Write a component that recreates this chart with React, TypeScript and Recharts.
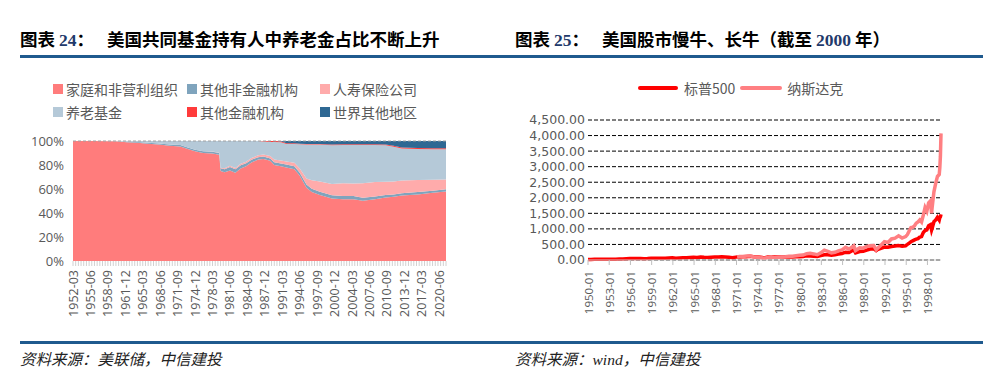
import React from 'react';
import { AreaChart, Area, LineChart, Line, XAxis, YAxis, CartesianGrid, ReferenceLine } from 'recharts';

// ---------- Left chart: US mutual fund holders (share, %) ----------
const holdPeriods = [
  '1952-03', '1956-03', '1960-03', '1962-03', '1964-03', '1966-03', '1968-03', '1970-03', '1972-03', '1973-06',
  '1974-12', '1976-06', '1978-03', '1979-06', '1979-09', '1980-06', '1981-06', '1982-06', '1983-06', '1984-06',
  '1985-06', '1986-09', '1987-09', '1988-12', '1989-09', '1990-12', '1991-12', '1993-06', '1994-06', '1995-09',
  '1996-09', '1998-03', '2000-06', '2002-06', '2004-06', '2006-03', '2008-06', '2010-06', '2011-12', '2013-06',
  '2016-06', '2019-03', '2021-09',
];
const household = [
  100, 99.9, 99.7, 99.0, 98.5, 97.8, 97.0, 96.0, 95.5, 93.5,
  91.5, 90.0, 89.5, 88.5, 75.0, 74.0, 75.5, 73.5, 77.0, 79.0,
  82.0, 84.5, 85.0, 83.5, 80.0, 79.0, 78.0, 76.5, 71.0, 61.0,
  57.5, 55.0, 52.0, 51.5, 51.5, 50.3, 51.5, 53.0, 53.5, 54.5,
  55.5, 56.8, 58.0,
];
const otherNonFin = [
  0, 0, 0.1, 0.4, 0.6, 0.8, 0.9, 1.0, 1.1, 1.2,
  1.3, 1.4, 1.5, 1.6, 2.2, 2.5, 2.8, 3.0, 2.8, 2.5,
  2.3, 2.0, 2.0, 2.0, 2.2, 2.3, 2.4, 2.5, 2.6, 2.8,
  2.8, 2.8, 2.7, 2.7, 2.6, 2.5, 2.3, 2.1, 2.0, 2.0,
  2.0, 1.8, 1.8,
];
const lifeIns = [
  0, 0, 0, 0, 0, 0, 0, 0, 0, 0,
  0, 0, 0.2, 0.2, 0.5, 0.8, 1.0, 1.0, 1.2, 1.3,
  1.5, 1.6, 1.7, 2.0, 2.4, 2.5, 2.6, 2.8, 3.5, 5.0,
  7.0, 8.5, 9.5, 10.5, 10.5, 12.0, 12.0, 11.0, 10.8, 10.5,
  10.0, 9.2, 8.2,
];
const pension = [
  0, 0.1, 0.2, 0.6, 0.9, 1.4, 2.1, 3.0, 3.4, 5.3,
  7.2, 8.6, 8.8, 9.7, 22.3, 22.7, 20.7, 22.5, 19.0, 17.2,
  14.2, 11.9, 10.8, 11.7, 14.6, 15.2, 14.6, 15.8, 20.2, 28.2,
  29.7, 30.7, 32.3, 32.0, 32.1, 31.9, 30.9, 30.3, 28.9, 26.7,
  25.9, 25.4, 25.2,
];
const otherFin = [
  0, 0, 0, 0, 0, 0, 0, 0, 0, 0,
  0, 0, 0, 0, 0, 0, 0, 0, 0, 0,
  0, 0, 0.5, 0.8, 0.8, 0.8, 0.6, 0.5, 0.5, 0.5,
  0.5, 0.5, 0.5, 0.5, 0.5, 0.5, 0.5, 0.6, 0.8, 0.8,
  0.8, 0.8, 0.8,
];
const restOfWorld = [
  0, 0, 0, 0, 0, 0, 0, 0, 0, 0,
  0, 0, 0, 0, 0, 0, 0, 0, 0, 0,
  0, 0, 0, 0, 0, 0.2, 1.8, 1.9, 2.2, 2.5,
  2.5, 2.5, 3.0, 2.8, 2.8, 2.8, 2.8, 3.0, 4.0, 5.5,
  5.8, 6.0, 6.0,
];
const holdTickLabels = [
  '1952-03', '1955-06', '1958-09', '1961-12', '1965-03', '1968-06', '1971-09', '1974-12', '1978-03', '1981-06',
  '1984-09', '1987-12', '1991-03', '1994-06', '1997-09', '2000-12', '2004-03', '2007-06', '2010-09', '2013-12',
  '2017-03', '2020-06',
];
const holdSeriesNames = ['家庭和非营利组织', '其他非金融机构', '人寿保险公司', '养老基金', '其他金融机构', '世界其他地区'];
const holdColors = ['#FF7C7C', '#7FA4BD', '#FFABAB', '#B5C9D8', '#FF3B3B', '#2F6893'];
const holdKeys = ['h', 'n', 'l', 'p', 'f', 'w'];

// ---------- Right chart: S&P 500 & Nasdaq ----------
const idxDates = [
  '1950-01', '1950-06', '1950-12', '1951-06', '1951-12', '1952-06', '1952-12', '1953-06', '1953-12', '1954-06',
  '1954-12', '1955-06', '1955-12', '1956-06', '1956-12', '1957-06', '1957-12', '1958-06', '1958-12', '1959-06',
  '1959-12', '1960-06', '1960-12', '1961-06', '1961-12', '1962-06', '1962-12', '1963-06', '1963-12', '1964-06',
  '1964-12', '1965-06', '1965-12', '1966-06', '1966-12', '1967-06', '1967-12', '1968-06', '1968-12', '1969-06',
  '1969-12', '1970-06', '1970-12', '1971-02', '1971-06', '1971-12', '1972-06', '1972-12', '1973-06', '1973-12',
  '1974-06', '1974-12', '1975-06', '1975-12', '1976-06', '1976-12', '1977-06', '1977-12', '1978-06', '1978-12',
  '1979-06', '1979-12', '1980-06', '1980-12', '1981-06', '1981-12', '1982-06', '1982-12', '1983-06', '1983-12',
  '1984-06', '1984-12', '1985-06', '1985-12', '1986-06', '1986-12', '1987-08', '1987-11', '1988-06', '1988-12',
  '1989-06', '1989-12', '1990-06', '1990-10', '1990-12', '1991-06', '1991-12', '1992-06', '1992-12', '1993-06',
  '1993-12', '1994-06', '1994-12', '1995-03', '1995-06', '1995-09', '1995-12', '1996-03', '1996-06', '1996-09',
  '1996-12', '1997-03', '1997-06', '1997-09', '1997-12', '1998-03', '1998-06', '1998-08', '1998-09', '1998-12',
  '1999-03', '1999-06', '1999-09', '1999-10', '1999-11', '1999-12',
];
const sp500 = [
  17.05, 17.69, 20.41, 20.96, 23.77, 24.96, 26.57, 24.14, 24.81, 29.21,
  35.98, 41.03, 45.48, 46.97, 46.67, 47.37, 39.99, 45.24, 55.21, 58.47,
  59.89, 56.92, 58.11, 64.64, 71.55, 54.75, 63.1, 69.37, 75.02, 81.69,
  84.75, 84.12, 92.43, 84.74, 80.33, 90.64, 96.47, 99.58, 103.86, 97.71,
  92.06, 72.72, 92.15, 96.75, 99.7, 102.09, 107.14, 118.05, 104.26, 97.55,
  86.0, 68.56, 95.19, 90.19, 104.28, 107.46, 100.48, 95.1, 95.53, 96.11,
  102.91, 107.94, 114.24, 135.76, 131.21, 122.55, 111.97, 140.64, 168.11, 164.93,
  153.18, 167.24, 191.85, 211.28, 250.84, 242.17, 329.8, 230.3, 273.5, 277.72,
  317.98, 353.4, 358.02, 304.0, 330.22, 371.16, 417.09, 408.14, 435.71, 450.53,
  466.45, 444.27, 459.27, 500.71, 544.75, 584.41, 615.93, 645.5, 670.63, 687.31,
  740.74, 757.12, 885.14, 947.28, 970.43, 1101.75, 1133.84, 957.28, 1017.01, 1229.23,
  1286.37, 1372.71, 1282.71, 1362.93, 1388.91, 1469.25,
];
const nasdaq = [
  null, null, null, null, null, null, null, null, null, null,
  null, null, null, null, null, null, null, null, null, null,
  null, null, null, null, null, null, null, null, null, null,
  null, null, null, null, null, null, null, null, null, null,
  null, null, null, 100, 109, 114, 130, 134, 100, 92,
  69, 60, 83, 78, 90, 98, 99, 105, 118, 118,
  137, 151, 157, 202, 215, 196, 171, 232, 318, 279,
  230, 247, 296, 325, 405, 349, 455, 305, 394, 381,
  435, 455, 462, 329, 374, 475, 586, 563, 677, 704,
  777, 706, 752, 817, 933, 1044, 1052, 1101, 1185, 1227,
  1291, 1222, 1442, 1686, 1570, 1835, 1895, 1499, 1694, 2193,
  2461, 2686, 2746, 2966, 3336, 4069,
];
const idxTickLabels = [
  '1950-01', '1953-01', '1956-01', '1959-01', '1962-01', '1965-01', '1968-01', '1971-01', '1974-01',
  '1977-01', '1980-01', '1983-01', '1986-01', '1989-01', '1992-01', '1995-01', '1998-01',
];
const idxYTicks = [0, 500, 1000, 1500, 2000, 2500, 3000, 3500, 4000, 4500];
const idxNames = ['标普500', '纳斯达克'];
const idxColors = ['#FF0000', '#FF7F82'];

// ---------- helpers ----------
const qIndex = (s: string) => {
  const [y, m] = s.split('-').map(Number);
  return (y - 1952) * 4 + m / 3 - 1;
};
const mIndex = (s: string) => {
  const [y, m] = s.split('-').map(Number);
  return (y - 1950) * 12 + (m - 1);
};

const holdData = holdPeriods.map((p, i) => ({
  q: qIndex(p),
  h: household[i],
  n: otherNonFin[i],
  l: lifeIns[i],
  p: pension[i],
  f: otherFin[i],
  w: restOfWorld[i],
}));
const holdLastQ = qIndex(holdPeriods[holdPeriods.length - 1]);
const holdAllTicks: number[] = [];
for (let q = 0; q <= holdLastQ; q++) holdAllTicks.push(q);
const holdLabelMap = new Map<number, string>(holdTickLabels.map((l) => [qIndex(l), l]));

const idxData = idxDates.map((d, i) => ({ m: mIndex(d), sp: sp500[i], nq: nasdaq[i] }));
const idxTicks = idxTickLabels.map(mIndex);
const idxLabelMap = new Map<number, string>(idxTickLabels.map((l) => [mIndex(l), l]));

const CJK = '"Noto Sans CJK SC", "Noto Sans", sans-serif';
const NUM = '"Open Sans", "Noto Sans", sans-serif';
const GRAY = '#595959';

const HoldTick = (props: any) => {
  const { x, y, payload, index } = props;
  const label = holdLabelMap.get(Math.round(payload.value));
  return (
    <g>
      {index % 2 === 0 && <line x1={x} x2={x} y1={y} y2={y + 5} stroke="#D0D0D0" strokeWidth={1} />}
      {label && (
        <text
          x={x}
          y={y + 9}
          transform={`rotate(-90, ${x}, ${y + 9})`}
          textAnchor="end"
          dominantBaseline="central"
          fontSize={12.5}
          fontFamily={NUM}
          fill={GRAY}
        >
          {label}
        </text>
      )}
    </g>
  );
};

const IdxTick = (props: any) => {
  const { x, y, payload } = props;
  const label = idxLabelMap.get(Math.round(payload.value));
  return (
    <g>
      <line x1={x} x2={x} y1={y} y2={y + 5} stroke="#BFBFBF" strokeWidth={1} />
      {label && (
        <text
          x={x}
          y={y + 11}
          transform={`rotate(-90, ${x}, ${y + 11})`}
          textAnchor="end"
          dominantBaseline="central"
          fontSize={11.5}
          fontFamily={NUM}
          fill={GRAY}
        >
          {label}
        </text>
      )}
    </g>
  );
};

const abs = (left: number, top: number, extra: React.CSSProperties = {}): React.CSSProperties => ({
  position: 'absolute',
  left,
  top,
  whiteSpace: 'nowrap',
  ...extra,
});

export default function App() {
  const titleStyle: React.CSSProperties = { fontFamily: CJK, fontWeight: 700, fontSize: 17.5, lineHeight: '20px', color: '#000' };
  const serifNum: React.CSSProperties = { fontFamily: '"Liberation Serif", serif', fontWeight: 700, color: '#1F3A6B' };
  const srcStyle: React.CSSProperties = { fontFamily: CJK, fontStyle: 'italic', fontSize: 15.5, lineHeight: '20px', color: '#222' };
  const legendText: React.CSSProperties = { fontFamily: CJK, fontSize: 14, lineHeight: '18px', color: GRAY };

  const legendPos = [
    [53, 80], [187, 80], [320, 80],
    [53, 103], [187, 103], [320, 103],
  ];

  return (
    <div style={{ position: 'absolute', left: 0, top: 0, width: 997, height: 388, background: '#fff', overflow: 'hidden' }}>
      {/* titles */}
      <div style={abs(20, 29, titleStyle)}>
        图表 <span style={serifNum}>24</span>：
      </div>
      <div style={abs(107, 29, titleStyle)}>美国共同基金持有人中养老金占比不断上升</div>
      <div style={abs(515, 29, titleStyle)}>
        图表 <span style={serifNum}>25</span>：
      </div>
      <div style={abs(602, 29, titleStyle)}>
        美国股市慢牛、长牛（截至 <span style={serifNum}>2000</span> 年）
      </div>
      <div style={abs(20, 55, { width: 963, height: 2.5, background: '#1F5A8E' })} />

      {/* left legend */}
      {holdSeriesNames.map((name, i) => (
        <div key={name} style={abs(legendPos[i][0], legendPos[i][1], { display: 'flex', alignItems: 'center', ...legendText })}>
          <span style={{ width: 10, height: 10, background: holdColors[i], display: 'inline-block', marginRight: 3 }} />
          {name}
        </div>
      ))}

      {/* left chart */}
      <div style={abs(0, 130)}>
        <AreaChart width={460} height={200} data={holdData} stackOffset="expand" margin={{ top: 11, right: 14, left: 13, bottom: 0 }}>
          <XAxis
            dataKey="q"
            type="number"
            domain={[0, holdLastQ]}
            ticks={holdAllTicks}
            interval={0}
            tick={<HoldTick />}
            tickLine={false}
            tickSize={0}
            tickMargin={0}
            axisLine={false}
            height={69}
          />
          <YAxis
            type="number"
            domain={[0, 1]}
            ticks={[0, 0.2, 0.4, 0.6, 0.8, 1]}
            tickFormatter={(v: number) => `${Math.round(v * 100)}%`}
            tick={{ fontSize: 13, fontFamily: NUM, fill: GRAY }}
            tickLine={false}
            tickSize={0}
            tickMargin={9}
            axisLine={false}
            width={60}
          />
          {holdKeys.map((k, i) => (
            <Area
              key={k}
              dataKey={k}
              name={holdSeriesNames[i]}
              stackId="a"
              type="linear"
              fill={holdColors[i]}
              fillOpacity={1}
              stroke="none"
              isAnimationActive={false}
            />
          ))}
          <ReferenceLine y={1} stroke="#A0A0A0" strokeDasharray="3 2" />
        </AreaChart>
      </div>

      {/* right legend */}
      <div style={abs(638, 79, { display: 'flex', alignItems: 'center', ...legendText })}>
        <span style={{ width: 40, height: 4, background: idxColors[0], display: 'inline-block', marginRight: 6, borderRadius: 2 }} />
        {idxNames[0]}
        <span style={{ width: 42, height: 4, background: idxColors[1], display: 'inline-block', marginLeft: 5, marginRight: 5, borderRadius: 2 }} />
        {idxNames[1]}
      </div>

      {/* right chart */}
      <div style={abs(500, 110)}>
        <LineChart width={460} height={220} data={idxData} margin={{ top: 10, right: 19, left: 8, bottom: 0 }}>
          <CartesianGrid vertical={false} stroke="#000" strokeDasharray="4 2" strokeWidth={1} />
          <XAxis
            dataKey="m"
            type="number"
            domain={[0, 599]}
            ticks={idxTicks}
            interval={0}
            tick={<IdxTick />}
            tickLine={false}
            tickSize={0}
            tickMargin={0}
            axisLine={{ stroke: '#D0D0D0' }}
            height={70}
          />
          <YAxis
            type="number"
            domain={[0, 4500]}
            ticks={idxYTicks}
            interval={0}
            tickFormatter={(v: number) => v.toLocaleString('en-US', { minimumFractionDigits: 2, maximumFractionDigits: 2 })}
            tick={{ fontSize: 12.5, fontFamily: '"DejaVu Sans", sans-serif', fill: GRAY }}
            tickLine={false}
            tickSize={0}
            tickMargin={3}
            axisLine={false}
            width={80}
          />
          <Line dataKey="sp" name={idxNames[0]} type="linear" stroke={idxColors[0]} strokeWidth={3.5} dot={false} isAnimationActive={false} />
          <Line dataKey="nq" name={idxNames[1]} type="linear" stroke={idxColors[1]} strokeWidth={3.5} dot={false} isAnimationActive={false} />
        </LineChart>
      </div>

      {/* bottom rule and sources */}
      <div style={abs(20, 341, { width: 963, height: 2.5, background: '#1F5A8E' })} />
      <div style={abs(20, 348, srcStyle)}>资料来源：美联储，中信建投</div>
      <div style={abs(515, 348, srcStyle)}>
        资料来源：<span style={{ fontFamily: '"Liberation Serif", serif' }}>wind</span>，中信建投
      </div>
    </div>
  );
}
